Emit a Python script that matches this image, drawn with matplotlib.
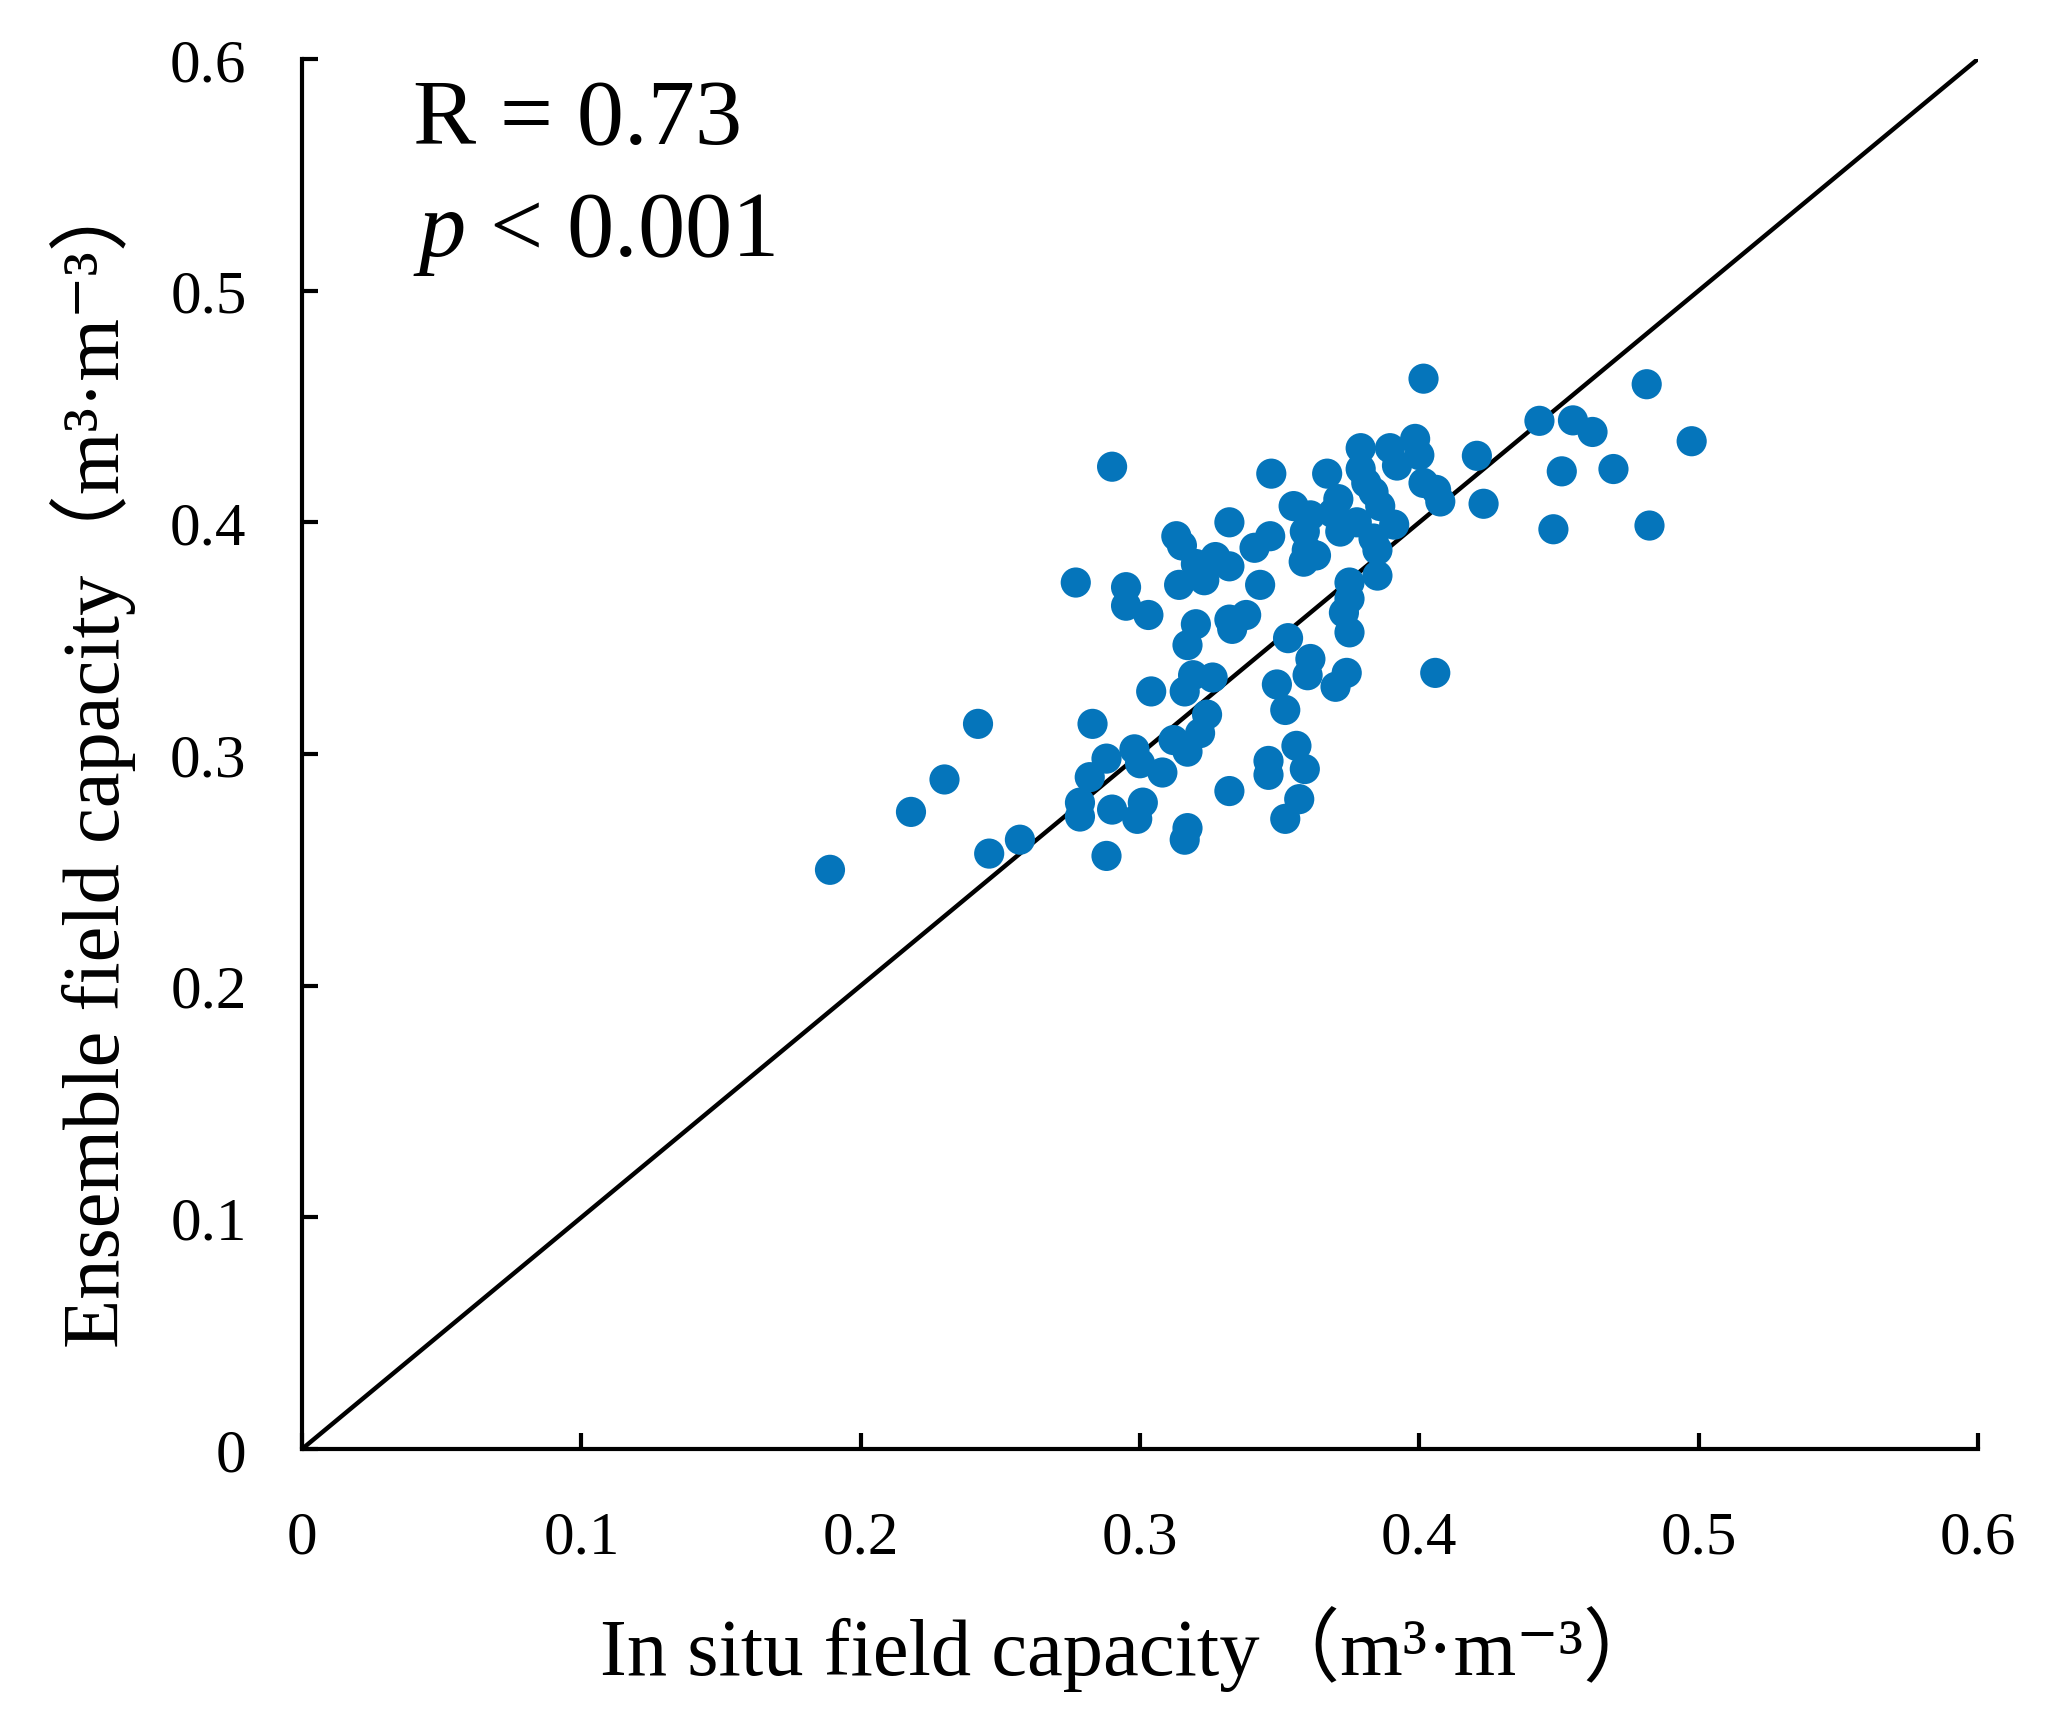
import matplotlib
matplotlib.use("Agg")
import matplotlib.pyplot as plt

# ---- data ----
in_situ = [
    0.189, 0.218, 0.230, 0.242, 0.246, 0.257, 0.277, 0.290, 0.283, 0.288,
    0.2785, 0.2785, 0.282, 0.288, 0.290, 0.298, 0.300, 0.301, 0.299, 0.308,
    0.312, 0.317, 0.304, 0.316, 0.319, 0.326, 0.324, 0.3215, 0.332, 0.317,
    0.316, 0.320, 0.317, 0.332, 0.333, 0.338, 0.295, 0.303,
    0.295, 0.313, 0.332, 0.341, 0.320, 0.327, 0.332, 0.314, 0.323, 0.343, 0.315,
    0.4015, 0.4206, 0.423, 0.347, 0.367, 0.379, 0.3895, 0.392, 0.3985, 0.400,
    0.379, 0.381, 0.4015, 0.406, 0.4075, 0.355, 0.361, 0.371, 0.369, 0.3836,
    0.386, 0.391, 0.3776, 0.3717, 0.3836, 0.385, 0.3466, 0.359, 0.3597, 0.3586,
    0.363, 0.385, 0.375, 0.375, 0.373,
    0.375, 0.353, 0.361, 0.360, 0.374, 0.370, 0.4057, 0.349, 0.352, 0.356,
    0.359, 0.346, 0.346, 0.357, 0.352,
    0.4814, 0.443, 0.455, 0.462, 0.4975, 0.451, 0.4695, 0.448, 0.4824,
]
ensemble = [
    0.250, 0.275, 0.289, 0.313, 0.257, 0.263, 0.374, 0.424, 0.313, 0.256,
    0.279, 0.273, 0.290, 0.298, 0.276, 0.302, 0.296, 0.279, 0.272, 0.292,
    0.306, 0.301, 0.327, 0.327, 0.334, 0.333, 0.317, 0.309, 0.284, 0.268,
    0.263, 0.356, 0.347, 0.358, 0.354, 0.360, 0.364, 0.360,
    0.372, 0.394, 0.400, 0.389, 0.382, 0.385, 0.381, 0.373, 0.375, 0.373, 0.390,
    0.462, 0.4287, 0.408, 0.421, 0.421, 0.432, 0.432, 0.4245, 0.436, 0.429,
    0.423, 0.417, 0.417, 0.414, 0.409, 0.407, 0.403, 0.410, 0.404, 0.413,
    0.407, 0.399, 0.400, 0.396, 0.393, 0.388, 0.394, 0.396, 0.388, 0.383,
    0.3857, 0.377, 0.374, 0.367, 0.361,
    0.3525, 0.350, 0.341, 0.334, 0.335, 0.329, 0.335, 0.330, 0.319, 0.3035,
    0.2935, 0.297, 0.291, 0.2805, 0.272,
    0.4596, 0.4438, 0.444, 0.439, 0.435, 0.422, 0.423, 0.397, 0.3986,
]
ticks = [0, 0.1, 0.2, 0.3, 0.4, 0.5, 0.6]
tick_labels = ["0", "0.1", "0.2", "0.3", "0.4", "0.5", "0.6"]
one_to_one = [0, 0.6]
r_text = "R = 0.73"
p_text = r"$p$ < 0.001"
xlabel = "In situ field capacity\uff08m\u00b3\u00b7m\u207b\u00b3\uff09"
ylabel = "Ensemble field capacity\uff08m\u00b3\u00b7m\u207b\u00b3\uff09"

# ---- style ----
serif = ["Liberation Serif", "DejaVu Serif", "Noto Sans CJK SC"]
plt.rcParams["font.family"] = serif
plt.rcParams["mathtext.fontset"] = "custom"
plt.rcParams["mathtext.rm"] = "Liberation Serif"
plt.rcParams["mathtext.it"] = "Liberation Serif:italic"

fig = plt.figure(figsize=(2069 / 200, 1733 / 200), dpi=200)
ax = fig.add_axes([0.146, 0.1633, 0.81, 0.8021])

ax.plot(one_to_one, one_to_one, color="black", lw=1.6, zorder=1)
ax.scatter(in_situ, ensemble, s=118, color="#0575BB", edgecolors="none", zorder=2)

ax.set_xlim(0, 0.6)
ax.set_ylim(0, 0.6)
ax.set_xticks(ticks)
ax.set_xticklabels(tick_labels)
ax.set_yticks(ticks)
ax.set_yticklabels(tick_labels)

for s in ["top", "right"]:
    ax.spines[s].set_visible(False)
for s in ["left", "bottom"]:
    ax.spines[s].set_linewidth(1.5)

ax.tick_params(axis="both", direction="in", length=5.8, width=1.5, labelsize=22)
ax.tick_params(axis="x", pad=22)
ax.tick_params(axis="y", pad=20)

ax.set_xlabel(xlabel, fontsize=29, family=serif)
ax.xaxis.label.set_va("center")
ax.xaxis.set_label_coords(0.495, -0.143)
ax.set_ylabel(ylabel, fontsize=29, family=serif)
ax.yaxis.label.set_va("center")
ax.yaxis.set_label_coords(-0.1247, 0.497)

ax.text(0.066, 0.9396, r_text, transform=ax.transAxes, fontsize=34,
        ha="left", va="baseline")
ax.text(0.066, 0.859, p_text, transform=ax.transAxes, fontsize=34,
        ha="left", va="baseline")

fig.savefig("out.png", dpi=200)
